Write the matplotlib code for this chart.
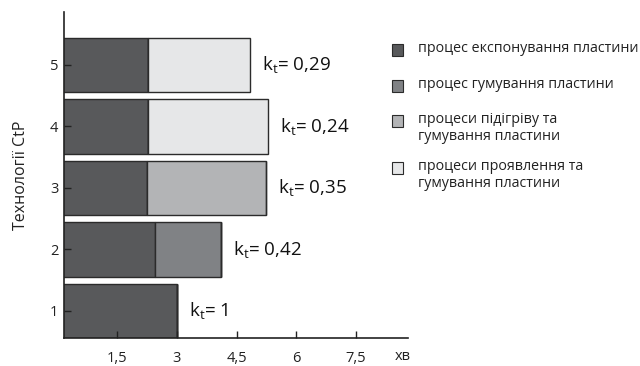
import matplotlib.pyplot as plt
from matplotlib.patches import Rectangle

plt.rcParams['font.family'] = ['Open Sans', 'DejaVu Sans']

technologies = [1, 2, 3, 4, 5]
exposure = [3.0, 2.45, 2.25, 2.27, 2.27]
gumming = [0, 1.67, 0, 0, 0]
preheat_gumming = [0, 0, 3.0, 0, 0]
develop_gumming = [0, 0, 0, 3.03, 2.56]
kt_labels = ['1', '0,42', '0,35', '0,24', '0,29']

xticks = [1.5, 3, 4.5, 6, 7.5]
xtick_labels = ['1,5', '3', '4,5', '6', '7,5']

series_names = ['процес експонування пластини',
                'процес гумування пластини',
                'процеси підігріву та\nгумування пластини',
                'процеси проявлення та\nгумування пластини']
colors = ['#58595b', '#808285', '#b3b4b6', '#e6e7e8']
edge = '#2b2b2b'

fig = plt.figure(figsize=(6.4, 3.66), dpi=100)
ax = fig.add_axes([0.1, 0.0765, 0.5375, 0.8905])

left = [0] * len(technologies)
for vals, c in zip([exposure, gumming, preheat_gumming, develop_gumming], colors):
    ax.barh(technologies, vals, left=left, height=0.88, color=c,
            edgecolor=edge, linewidth=1.0)
    left = [l + v for l, v in zip(left, vals)]

for y, total, lab in zip(technologies, left, kt_labels):
    ax.text(total + 0.3, y, r'$\mathregular{k_t}$' + '= ' + lab,
            fontsize=13.5, va='center', ha='left', color='#111111')

ax.set_xlim(0.17, 8.8)
ax.set_ylim(0.56, 5.86)
ax.set_xticks(xticks)
ax.set_xticklabels(xtick_labels)
ax.set_yticks(technologies)
ax.tick_params(axis='both', direction='in', length=5, width=1,
               labelsize=10.5, colors='#222222')
ax.tick_params(axis='x', pad=9)
ax.tick_params(axis='y', pad=4)
for s in ['top', 'right']:
    ax.spines[s].set_visible(False)
for s in ['left', 'bottom']:
    ax.spines[s].set_linewidth(1.2)
    ax.spines[s].set_color('#222222')

ax.set_ylabel('Технології CtP', fontsize=11.5, color='#222222', labelpad=15)
ax.text(0.985, -0.058, 'хв', transform=ax.transAxes, fontsize=10.5,
        ha='center', va='center', color='#222222')

# legend drawn manually
leg_y = [50, 86, 121, 168]
for yy, name, c in zip(leg_y, series_names, colors):
    fy = 1 - yy / 366
    fig.patches.append(Rectangle((392 / 640, fy - 6 / 366), 11 / 640, 12 / 366,
                                 transform=fig.transFigure, facecolor=c,
                                 edgecolor=edge, linewidth=0.8))
    fig.text(418 / 640, fy + 9 / 366, name, fontsize=10.3, va='top', ha='left',
             color='#222222', linespacing=1.15)

fig.savefig('out.png', dpi=100)
